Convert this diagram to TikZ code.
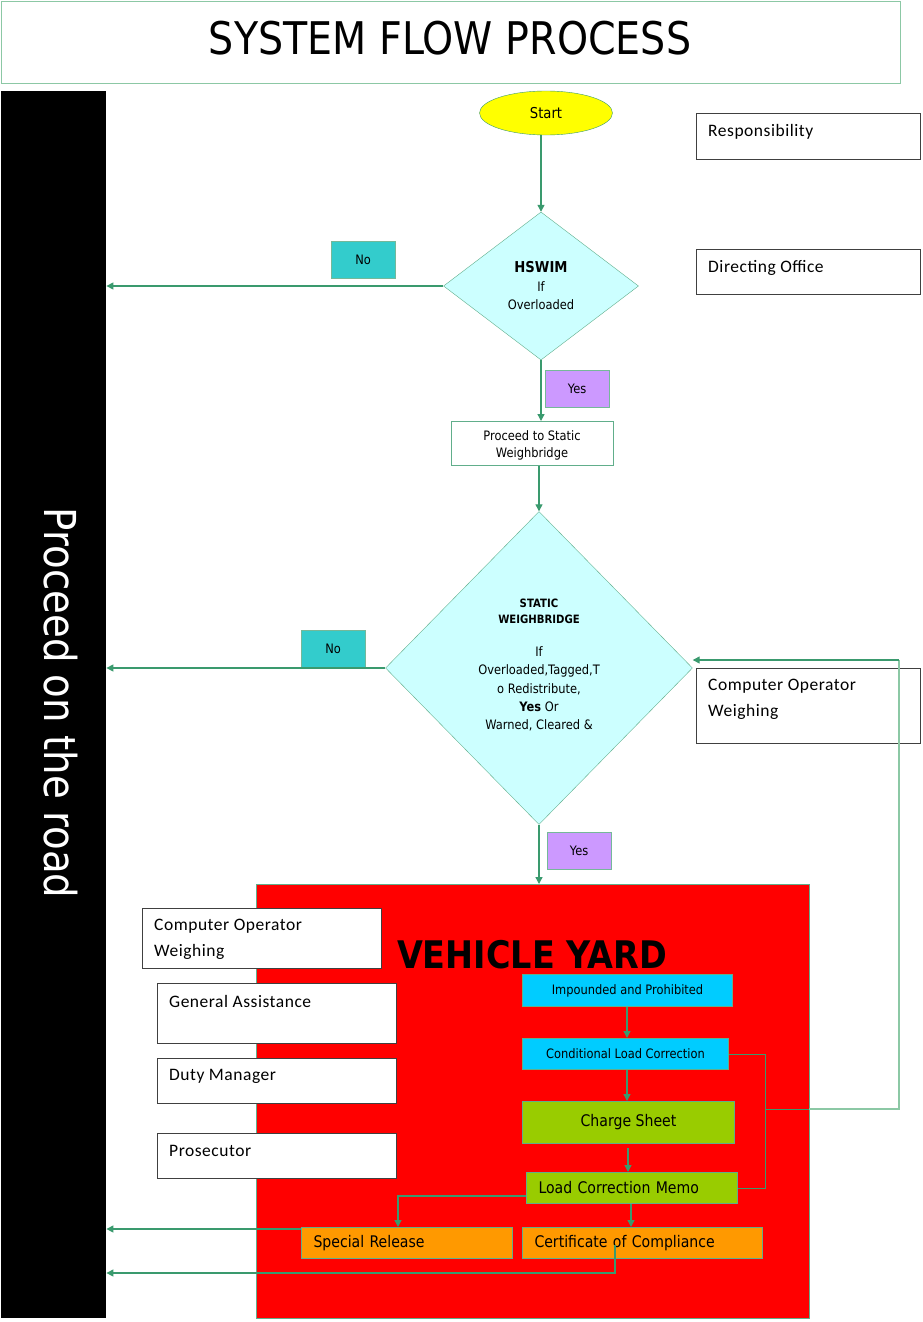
\documentclass[tikz,border=0pt]{standalone}
\usepackage{fontspec}
\setmainfont{DejaVu Sans}
\newfontfamily\tahfont[FakeStretch=0.88]{DejaVu Sans}
\newfontfamily\calfont[LetterSpace=3]{Carlito}
\usetikzlibrary{shapes.geometric,arrows.meta}
\definecolor{lg}{RGB}{58,154,110}
\definecolor{lgl}{RGB}{140,200,165}
\definecolor{dfill}{RGB}{204,255,255}
\definecolor{nofill}{RGB}{51,204,204}
\definecolor{yesfill}{RGB}{204,153,255}
\definecolor{cyanbox}{RGB}{0,204,255}
\definecolor{greenbox}{RGB}{153,204,0}
\definecolor{orangebox}{RGB}{255,153,0}
\definecolor{startfill}{RGB}{255,255,0}
\begin{document}
\begin{tikzpicture}[x=1pt,y=-1pt,
 arr/.style={draw=lg, line width=1.3pt, -{Triangle[length=7pt,width=7pt]}},
 ln/.style={draw=lg, line width=1pt},
 lnl/.style={draw=lgl, line width=1.2pt},
 decision/.style={diamond, draw=lg!80, fill=dfill, inner sep=0pt},
 tagbox/.style={draw=lg!70, fill=#1, minimum width=64pt, minimum height=37pt, inner sep=0pt, anchor=north west, font=\tahfont\fontsize{13}{15}\selectfont},
 respbox/.style={draw=black!75, line width=1pt, fill=white, anchor=north west, inner sep=0pt},
 resptext/.style={anchor=west, font=\calfont\fontsize{17.5}{26}\selectfont, align=left, inner sep=0pt},
 yardbox/.style={draw=lg!80, line width=1pt, fill=#1, anchor=north west, inner sep=0pt},
 ytext/.style={font=\tahfont\fontsize{13}{15}\selectfont},
 ytextl/.style={font=\tahfont\fontsize{16}{18}\selectfont},
]
\useasboundingbox (0,0) rectangle (923,1322);
\fill[white] (0,0) rectangle (923,1322);

% title
\node[draw=lgl, line width=1pt, anchor=north west, minimum width=899pt, minimum height=82pt, inner sep=0pt] (title) at (1,1) {};
\node[font=\tahfont\fontsize{45}{50}\selectfont] (titletext) at (450,38) {SYSTEM FLOW PROCESS};

% black bar
\node[fill=black, anchor=north west, minimum width=105pt, minimum height=1227pt, inner sep=0pt] (bar) at (1,91) {};
\node[rotate=-90, text=white, font=\tahfont\fontsize{44}{48}\selectfont] (road) at (61,703) {Proceed on the road};

% start
\node[ellipse, draw=lg, fill=startfill, minimum width=133pt, minimum height=44pt, inner sep=0pt, font=\tahfont\fontsize{15}{17}\selectfont] (start) at (546,113) {Start};

% HSWIM
\node[decision, minimum width=195pt, minimum height=148pt] (hswim) at (541,286) {};
\node[align=center, font=\tahfont\fontsize{13}{18.5}\selectfont] (hswimt) at (541,286) {{\fontsize{15}{18.5}\selectfont\bfseries HSWIM}\\If\\Overloaded};

\node[tagbox=nofill] (no1) at (331,241) {No};
\node[tagbox=yesfill] (yes1) at (545,370) {Yes};

% proceed to static
\node[draw=lg!80, line width=1pt, anchor=north west, minimum width=162pt, minimum height=44pt, inner sep=0pt] (pts) at (451,421) {};
\node[align=center, font=\tahfont\fontsize{13}{17}\selectfont] (ptst) at (532,445) {Proceed to Static\\Weighbridge};

% static weighbridge
\node[decision, minimum width=307pt, minimum height=313pt] (sw) at (539,668) {};
\node[align=center, font=\tahfont\fontsize{11.5}{16}\selectfont\bfseries] (swh) at (539,611) {STATIC\\WEIGHBRIDGE};
\node[align=center, font=\tahfont\fontsize{13}{18.3}\selectfont] (swb) at (539,689) {If\\Overloaded,Tagged,T\\o Redistribute,\\\textbf{Yes} Or\\Warned, Cleared \&};

\node[tagbox=nofill] (no2) at (301,630) {No};
\node[tagbox=yesfill] (yes2) at (547,832) {Yes};

% responsibility boxes
\node[respbox, minimum width=224pt, minimum height=46pt] (resp) at (696,113) {};
\node[resptext] (respt) at (708,132) {Responsibility};
\node[respbox, minimum width=224pt, minimum height=45pt] (dir) at (696,249) {};
\node[resptext] (dirt) at (708,268) {Directing Office};
\node[respbox, minimum width=224pt, minimum height=75pt] (cow) at (696,668) {};
\node[resptext] (cowt) at (708,699) {Computer Operator\\Weighing};

% vehicle yard
\node[yardbox=red, minimum width=553pt, minimum height=434pt] (yard) at (256,884) {};
\node[font=\tahfont\fontsize{38}{40}\selectfont\bfseries] (yardt) at (532,955) {VEHICLE YARD};

\node[respbox, minimum width=239pt, minimum height=60pt] (cow2) at (142,908) {};
\node[resptext] (cow2t) at (154,939) {Computer Operator\\Weighing};
\node[respbox, minimum width=239pt, minimum height=60pt] (ga) at (157,983) {};
\node[resptext] (gat) at (169,1001) {General Assistance};
\node[respbox, minimum width=239pt, minimum height=45pt] (dm) at (157,1058) {};
\node[resptext] (dmt) at (169,1076) {Duty Manager};
\node[respbox, minimum width=239pt, minimum height=45pt] (pr) at (157,1133) {};
\node[resptext] (prt) at (169,1151) {Prosecutor};

\node[yardbox=cyanbox, minimum width=210pt, minimum height=32pt, ytext] (imp) at (522,974) {Impounded and Prohibited};
\node[yardbox=cyanbox, minimum width=206pt, minimum height=31pt, ytext] (clc) at (522,1038) {Conditional Load Correction};
\node[yardbox=greenbox, minimum width=212pt, minimum height=42pt, ytextl] (cs) at (522,1101) {Charge Sheet};
\node[yardbox=greenbox, minimum width=211pt, minimum height=31pt, ytextl, text width=187pt, inner xsep=12pt, align=left] (lcm) at (526,1172) {Load Correction Memo};
\node[yardbox=orangebox, minimum width=211pt, minimum height=31pt, ytextl, text width=187pt, inner xsep=12pt, align=left] (sr) at (301,1227) {Special Release};
\node[yardbox=orangebox, minimum width=240pt, minimum height=31pt, ytextl, text width=216pt, inner xsep=12pt, align=left] (coc) at (522,1227) {Certificate of Compliance};

% connectors
\draw[arr] (hswim.north |- start.south) -- (hswim.north);
\draw[arr] (hswim.west) -- (hswim.west -| bar.east);
\draw[arr] (hswim.south) -- (hswim.south |- pts.north);
\draw[arr] (sw.north |- pts.south) -- (sw.north);
\draw[arr] (sw.west) -- (sw.west -| bar.east);
\draw[arr] (sw.south) -- (sw.south |- yard.north);

\draw[arr] (imp.south -| 627,0) -- (clc.north -| 627,0);
\draw[arr] (clc.south -| 627,0) -- (cs.north -| 627,0);
\draw[arr] (628,1148) -- (lcm.north -| 628,0);
\draw[arr] (lcm.south -| 631,0) -- (coc.north -| 631,0);
\coordinate (memoL) at (526,1196);
\draw[arr] (memoL) -| (sr.north -| 398,0);
\draw[arr] (sr.north west) ++(0,2) -- (bar.east |- 301,1229);
\coordinate (cocL) at (615,1245);
\draw[arr] (cocL) |- (bar.east |- 0,1273);

\coordinate (join) at (765,1109);
\coordinate (loopc) at (899,660);
\draw[ln] (clc.east) -| (join);
\draw[ln] (lcm.east) -| (join);
\draw[ln] (join) -- (809,1109);
\draw[lnl] (809,1109) -- (899,1109) -- (loopc);
\draw[arr] (loopc) -- (sw.east |- loopc);
\end{tikzpicture}
\end{document}
